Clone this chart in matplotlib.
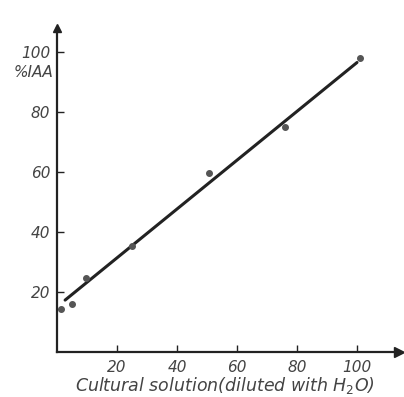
import matplotlib
matplotlib.use("Agg")
import matplotlib.pyplot as plt

# measured points
x_pts = [1.5, 5, 9.5, 25, 50.5, 76, 101]
y_pts = [14.3, 16, 24.7, 35.3, 59.7, 75, 98]

# fitted line, as drawn in the original
line_x = [2.7, 100]
line_y = [17.3, 96.5]

xticks = [20, 40, 60, 80, 100]
yticks = [20, 40, 60, 80, 100]

ink = '#222222'

fig = plt.figure(figsize=(4.04, 3.97), dpi=100)
ax = fig.add_axes([57 / 404, 45 / 397, 342 / 404, 324 / 397])

ax.plot(line_x, line_y, color=ink, lw=2.2, solid_capstyle='round')
ax.plot(x_pts, y_pts, 'o', color='#555555', ms=4, mec='#555555')

ax.set_xlim(0, 114)
ax.set_ylim(0, 108)

for s in ['top', 'right']:
    ax.spines[s].set_visible(False)
for s in ['left', 'bottom']:
    ax.spines[s].set_color(ink)
    ax.spines[s].set_linewidth(1.6)

# arrow heads
ax.plot(1, 0, '>', color=ink, ms=7, transform=ax.transAxes, clip_on=False)
ax.plot(0, 1, '^', color=ink, ms=6, transform=ax.transAxes, clip_on=False)

ax.set_xticks(xticks)
ax.set_yticks(yticks)
ax.tick_params(direction='in', length=5, width=1, color=ink, labelcolor='#444444', labelsize=11)
ax.tick_params(axis='x', pad=6)
ax.tick_params(axis='y', pad=5)
for lab in ax.get_xticklabels() + ax.get_yticklabels():
    lab.set_fontstyle('italic')

ax.text(-1.3, 93.3, '%IAA', ha='right', va='center', fontsize=11, style='italic', color='#444444')
ax.set_xlabel('Cultural solution(diluted with H$_2$O)', fontsize=12.5, style='italic',
              color='#444444', labelpad=1)
ax.xaxis.set_label_coords(0.49, -0.072)

fig.savefig('out.png', dpi=100)
